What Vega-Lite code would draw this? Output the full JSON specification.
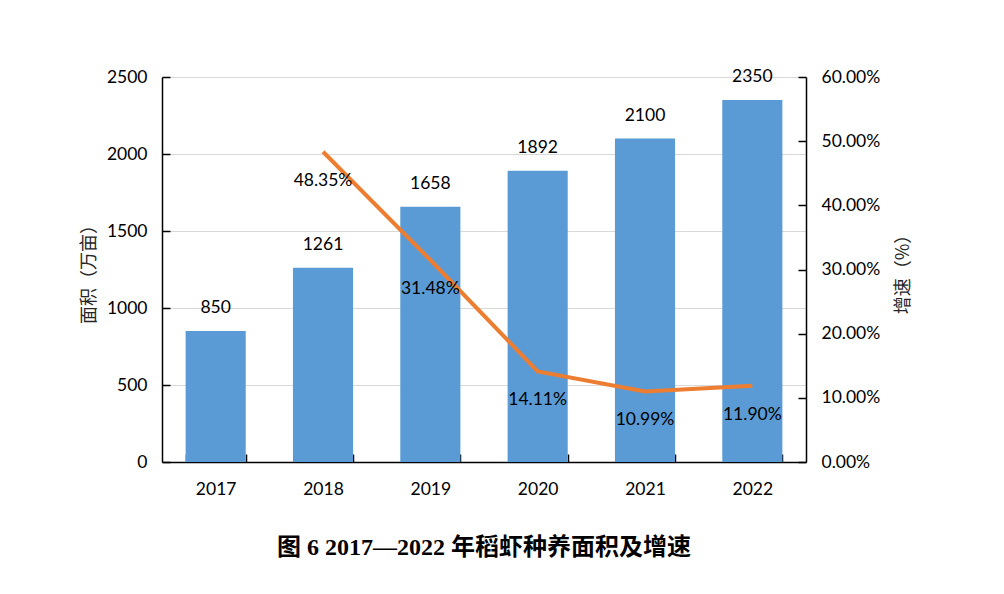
{
  "$schema": "https://vega.github.io/schema/vega-lite/v6.json",
  "width": 644,
  "height": 385,
  "autosize": {"type": "none"},
  "padding": {"left": 162, "top": 77, "right": 198, "bottom": 132},
  "background": "white",
  "config": {
    "view": {"stroke": null},
    "font": "Lato",
    "axis": {
      "domainColor": "black",
      "domainWidth": 1.5,
      "tickColor": "black",
      "tickWidth": 1.5,
      "labelColor": "black",
      "labelFont": "Lato",
      "labelFontSize": 17.5,
      "gridColor": "#D9D9D9",
      "gridWidth": 1.2,
      "titleFont": "Noto Sans CJK SC",
      "titleFontSize": 18,
      "titleFontWeight": "normal",
      "titleColor": "#262626"
    }
  },
  "title": {
    "text": "图 6 2017—2022 年稻虾种养面积及增速",
    "orient": "bottom",
    "anchor": "middle",
    "font": "Liberation Serif, Noto Sans CJK SC",
    "fontSize": 24,
    "fontWeight": "bold",
    "color": "black",
    "offset": 38
  },
  "data": {
    "values": [
      {"year": "2017", "area": 850, "growth": null},
      {"year": "2018", "area": 1261, "growth": 0.4835},
      {"year": "2019", "area": 1658, "growth": 0.3148},
      {"year": "2020", "area": 1892, "growth": 0.1411},
      {"year": "2021", "area": 2100, "growth": 0.1099},
      {"year": "2022", "area": 2350, "growth": 0.119}
    ]
  },
  "encoding": {
    "x": {
      "field": "year",
      "type": "nominal",
      "scale": {"paddingInner": 0.44, "paddingOuter": 0.22},
      "axis": {
        "title": null,
        "labelAngle": 0,
        "tickBand": "extent",
        "tickSize": -8,
        "labelPadding": 26,
        "grid": false
      }
    }
  },
  "layer": [
    {
      "encoding": {
        "y": {
          "field": "area",
          "type": "quantitative",
          "scale": {"domain": [0, 2500]},
          "axis": {
            "orient": "left",
            "title": "面积（万亩）",
            "values": [0, 500, 1000, 1500, 2000, 2500],
            "format": "d",
            "grid": true,
            "tickSize": -8,
            "labelPadding": 23,
            "titlePadding": 8,
            "titleAngle": -90
          }
        }
      },
      "layer": [
        {"mark": {"type": "bar", "color": "#5B9BD5"}},
        {
          "mark": {"type": "text", "dy": -23, "fontSize": 17.5, "color": "black", "font": "Lato"},
          "encoding": {"text": {"field": "area", "type": "quantitative", "format": "d"}}
        }
      ]
    },
    {
      "transform": [{"filter": "datum.growth != null"}],
      "encoding": {
        "y": {
          "field": "growth",
          "type": "quantitative",
          "scale": {"domain": [0, 0.6]},
          "axis": {
            "orient": "right",
            "title": "增速（%）",
            "values": [0, 0.1, 0.2, 0.3, 0.4, 0.5, 0.6],
            "format": ".2%",
            "grid": false,
            "tickSize": -8,
            "labelPadding": 23,
            "titlePadding": 33,
            "titleAngle": -90
          }
        }
      },
      "layer": [
        {"mark": {"type": "line", "color": "#ED7D31", "strokeWidth": 4}},
        {
          "mark": {"type": "text", "dy": 29, "fontSize": 17.5, "color": "black", "font": "Lato"},
          "encoding": {"text": {"field": "growth", "type": "quantitative", "format": ".2%"}}
        }
      ]
    }
  ],
  "resolve": {"scale": {"y": "independent"}}
}
